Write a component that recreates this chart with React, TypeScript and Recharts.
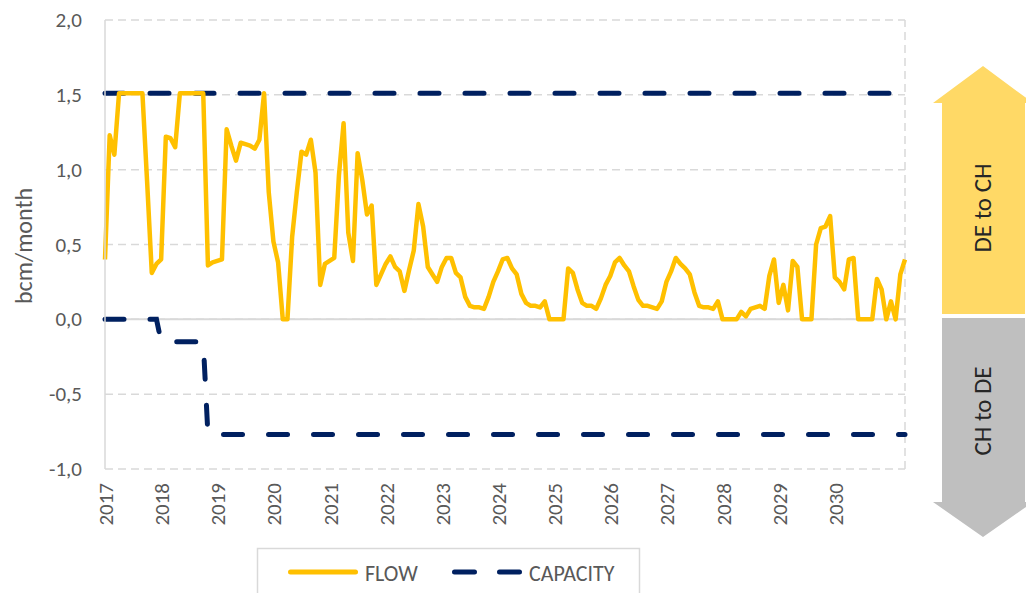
import { CartesianGrid, Line, LineChart, ReferenceLine, XAxis, YAxis } from "recharts";

const YEARS = [2017, 2018, 2019, 2020, 2021, 2022, 2023, 2024, 2025, 2026, 2027, 2028, 2029, 2030];

// monthly flow, bcm/month, Jan 2017 onwards
const FLOW = [
  0.4, 1.23, 1.1, 1.51, 1.51, 1.51, 1.51, 1.51, 1.51, 0.92, 0.31, 0.37,
  0.4, 1.22, 1.21, 1.15, 1.51, 1.51, 1.51, 1.51, 1.51, 1.51, 0.36, 0.38,
  0.39, 0.4, 1.27, 1.16, 1.06, 1.18, 1.17, 1.16, 1.14, 1.2, 1.51, 0.85,
  0.52, 0.38, 0, 0, 0.55, 0.85, 1.12, 1.1, 1.2, 0.98, 0.23, 0.37,
  0.39, 0.41, 0.96, 1.31, 0.58, 0.39, 1.11, 0.93, 0.7, 0.76, 0.23, 0.3,
  0.37, 0.42, 0.35, 0.32, 0.19, 0.33, 0.46, 0.77, 0.62, 0.35, 0.3, 0.25,
  0.35, 0.41, 0.41, 0.31, 0.28, 0.15, 0.09, 0.08, 0.08, 0.07, 0.15, 0.25,
  0.32, 0.4, 0.41, 0.34, 0.3, 0.17, 0.11, 0.09, 0.09, 0.08, 0.12, 0,
  0, 0, 0, 0.34, 0.31, 0.2, 0.11, 0.09, 0.09, 0.07, 0.14, 0.23,
  0.29, 0.38, 0.41, 0.36, 0.32, 0.22, 0.13, 0.09, 0.09, 0.08, 0.07, 0.12,
  0.25, 0.32, 0.41, 0.37, 0.34, 0.3, 0.18, 0.09, 0.08, 0.08, 0.07, 0.12,
  0, 0, 0, 0, 0.05, 0.02, 0.07, 0.08, 0.09, 0.07, 0.29, 0.4,
  0.11, 0.23, 0.06, 0.39, 0.35, 0, 0, 0, 0.5, 0.61, 0.62, 0.69,
  0.28, 0.25, 0.2, 0.4, 0.41, 0, 0, 0, 0, 0.27, 0.2, 0,
  0.12, 0, 0.3, 0.4,
];

// capacity breakpoints (month index, value)
const CAP_UP_MONTHS = [0, 171];
const CAP_UP = [1.51, 1.51];
const CAP_DOWN_MONTHS = [0, 11, 12, 21, 22, 171];
const CAP_DOWN = [0, 0, -0.15, -0.15, -0.77, -0.77];

const Y_TICKS = [-1, -0.5, 0, 0.5, 1, 1.5, 2];

const flowData = FLOW.map((v, i) => ({ month: i, flow: v }));
const capUpData = CAP_UP_MONTHS.map((m, k) => ({ month: m, cap: CAP_UP[k] }));
const capDownData = CAP_DOWN_MONTHS.map((m, k) => ({ month: m, cap: CAP_DOWN[k] }));

const FONT = "Carlito, Lato, 'Open Sans', sans-serif";
const TEXT = "#595959";
const GRID = "#d9d9d9";
const YELLOW = "#FFC000";
const NAVY = "#002060";

const YearTick = ({ x, payload }: any) => (
  <text
    x={x + 1}
    y={483}
    transform={`rotate(-90 ${x + 1} 483)`}
    textAnchor="end"
    dominantBaseline="central"
    fontSize={21}
    fontFamily={FONT}
    fill={TEXT}
  >
    {YEARS[Math.round(payload.value / 12)]}
  </text>
);

const ValueTick = ({ y, payload }: any) => (
  <text
    x={82}
    y={y}
    textAnchor="end"
    dominantBaseline="central"
    fontSize={21}
    fontFamily={FONT}
    fill={TEXT}
  >
    {payload.value.toFixed(1).replace(".", ",")}
  </text>
);

export default function App() {
  return (
    <div style={{ position: "absolute", left: 0, top: 0, width: 1026, height: 593, background: "#fff" }}>
      <LineChart
        width={1026}
        height={593}
        margin={{ top: 20, right: 121, bottom: 64, left: 0 }}
      >
        <CartesianGrid vertical={false} stroke={GRID} strokeDasharray="8 5" strokeWidth={1.5} />
        <XAxis
          type="number"
          dataKey="month"
          domain={[0, 171]}
          ticks={YEARS.map((_, k) => k * 12)}
          interval={0}
          height={60}
          axisLine={false}
          tickLine={false}
          tick={<YearTick />}
        />
        <YAxis
          type="number"
          domain={[-1, 2]}
          ticks={Y_TICKS}
          width={105}
          axisLine={{ stroke: GRID, strokeWidth: 1.5 }}
          tickLine={false}
          tick={<ValueTick />}
        />
        <ReferenceLine y={0} stroke={GRID} strokeWidth={2} />
        <ReferenceLine x={171} stroke={GRID} strokeWidth={1.5} strokeDasharray="8 5" />
        <Line
          data={capUpData}
          dataKey="cap"
          stroke={NAVY}
          strokeWidth={5}
          strokeDasharray="19 26"
          strokeLinecap="round"
          dot={false}
          isAnimationActive={false}
        />
        <Line
          data={capDownData}
          dataKey="cap"
          stroke={NAVY}
          strokeWidth={5}
          strokeDasharray="19 26"
          strokeLinecap="round"
          dot={false}
          isAnimationActive={false}
        />
        <Line
          data={flowData}
          dataKey="flow"
          stroke={YELLOW}
          strokeWidth={4.5}
          strokeLinejoin="round"
          dot={false}
          isAnimationActive={false}
        />
      </LineChart>
      <svg
        width={1026}
        height={593}
        style={{ position: "absolute", left: 0, top: 0, pointerEvents: "none" }}
      >
        <text
          x={23}
          y={246}
          transform="rotate(-90 23 246)"
          textAnchor="middle"
          dominantBaseline="central"
          fontSize={24}
          fontFamily={FONT}
          fill={TEXT}
        >
          bcm/month
        </text>
        <polygon
          points="983,66 1033,103 1025,103 1025,314 942,314 942,103 933,103"
          fill="#FFD966"
        />
        <polygon
          points="942,318 1025,318 1025,502 1033,502 983,537 933,502 942,502"
          fill="#BFBFBF"
        />
        <text
          x={982}
          y={208}
          transform="rotate(-90 982 208)"
          textAnchor="middle"
          dominantBaseline="central"
          fontSize={25}
          fontFamily={FONT}
          fill="#262626"
        >
          DE to CH
        </text>
        <text
          x={982}
          y={411}
          transform="rotate(-90 982 411)"
          textAnchor="middle"
          dominantBaseline="central"
          fontSize={25}
          fontFamily={FONT}
          fill="#262626"
        >
          CH to DE
        </text>
        <rect x={257.5} y={548.5} width={382} height={60} fill="#fff" stroke={GRID} strokeWidth={1.5} />
        <line x1={290.5} y1={572} x2={355.5} y2={572} stroke={YELLOW} strokeWidth={5} strokeLinecap="round" />
        <text x={365} y={573} dominantBaseline="central" fontSize={22} fontFamily={FONT} fill={TEXT}>
          FLOW
        </text>
        <line
          x1={454.5}
          y1={572}
          x2={519.5}
          y2={572}
          stroke={NAVY}
          strokeWidth={5}
          strokeDasharray="20 25"
          strokeLinecap="round"
        />
        <text x={529} y={573} dominantBaseline="central" fontSize={22} fontFamily={FONT} fill={TEXT}>
          CAPACITY
        </text>
      </svg>
    </div>
  );
}
